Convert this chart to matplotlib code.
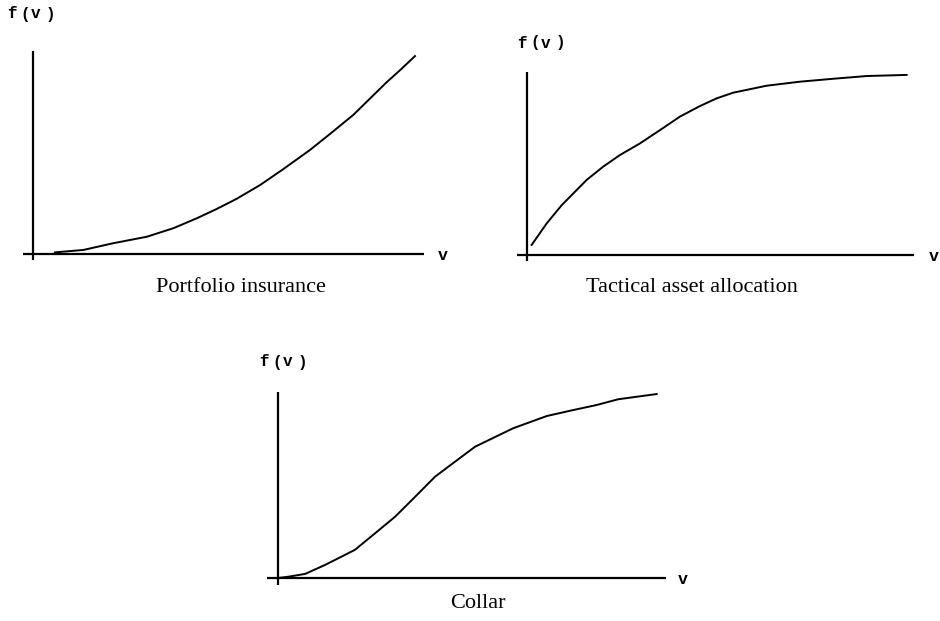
import matplotlib
matplotlib.use("Agg")
import matplotlib.pyplot as plt

W, H = 940, 621

# Panel data (normalized v and f(v))
pi_v = [0.056, 0.129, 0.205, 0.291, 0.359, 0.419, 0.470, 0.521, 0.581,
        0.640, 0.708, 0.760, 0.819, 0.905, 0.939, 0.977]
pi_f = [0.008, 0.020, 0.053, 0.085, 0.127, 0.176, 0.222, 0.272, 0.340,
        0.418, 0.512, 0.592, 0.685, 0.847, 0.906, 0.975]

taa_v = [0.012, 0.051, 0.090, 0.120, 0.154, 0.197, 0.240, 0.292, 0.344, 0.395,
         0.447, 0.490, 0.533, 0.619, 0.705, 0.791, 0.878, 0.981]
taa_f = [0.055, 0.173, 0.273, 0.337, 0.410, 0.483, 0.546, 0.610, 0.683, 0.756,
         0.814, 0.856, 0.887, 0.925, 0.947, 0.963, 0.978, 0.984]

col_v = [0.0, 0.027, 0.070, 0.121, 0.198, 0.250, 0.302, 0.345, 0.405, 0.456,
         0.508, 0.606, 0.693, 0.761, 0.821, 0.877, 0.976]
col_f = [0.0, 0.007, 0.022, 0.070, 0.151, 0.240, 0.330, 0.419, 0.545, 0.625,
         0.706, 0.805, 0.871, 0.903, 0.930, 0.961, 0.989]

captions = ["Portfolio insurance", "Tactical asset allocation", "Collar"]
ylabel_chars = ["f", "(", "v", ")"]
xlabel = "v"

# layout in pixels
panels = [
    dict(v=pi_v, f=pi_f, ox=33, oy=254, xe=424, yt=51, lx=23, by=260,
         flab=(8, 14), vlab=(443, 255), cap=(241, 292)),
    dict(v=taa_v, f=taa_f, ox=527, oy=255, xe=914, yt=72, lx=517, by=261,
         flab=(518, 43), vlab=(934, 256), cap=(692, 292)),
    dict(v=col_v, f=col_f, ox=278, oy=578, xe=666, yt=392, lx=267, by=585,
         flab=(260, 362), vlab=(683, 580), cap=(478, 608)),
]
char_offsets = [3.5, 17, 28, 42]

fig = plt.figure(figsize=(W / 100, H / 100), dpi=100)
fig.patch.set_facecolor("white")

for p, cap in zip(panels, captions):
    wpx = p["xe"] - p["ox"]
    hpx = p["oy"] - p["yt"]
    x0 = -(p["ox"] - p["lx"]) / wpx
    y0 = -(p["by"] - p["oy"]) / hpx
    left = p["lx"] / W
    bottom = 1 - p["by"] / H
    width = (p["xe"] - p["lx"]) / W
    height = (p["by"] - p["yt"]) / H
    ax = fig.add_axes([left, bottom, width, height])
    ax.set_xlim(x0, 1)
    ax.set_ylim(y0, 1)
    ax.axis("off")
    ax.plot([x0, 1], [0, 0], color="black", lw=1.6, solid_capstyle="butt")
    ax.plot([0, 0], [y0, 1], color="black", lw=1.6, solid_capstyle="butt")
    ax.plot(p["v"], p["f"], color="black", lw=1.4, solid_joinstyle="round")

    for ch, off in zip(ylabel_chars, char_offsets):
        fig.text((p["flab"][0] + off) / W, 1 - p["flab"][1] / H, ch,
                 family="Liberation Mono", weight="bold", fontsize=11.5,
                 ha="center", va="center")
    fig.text(p["vlab"][0] / W, 1 - p["vlab"][1] / H, xlabel, family="Liberation Mono",
             weight="bold", fontsize=12, ha="center", va="center")
    fig.text(p["cap"][0] / W, 1 - p["cap"][1] / H, cap, family="Liberation Serif",
             fontsize=16, ha="center", va="baseline")

fig.savefig("out.png", dpi=100, facecolor="white")
